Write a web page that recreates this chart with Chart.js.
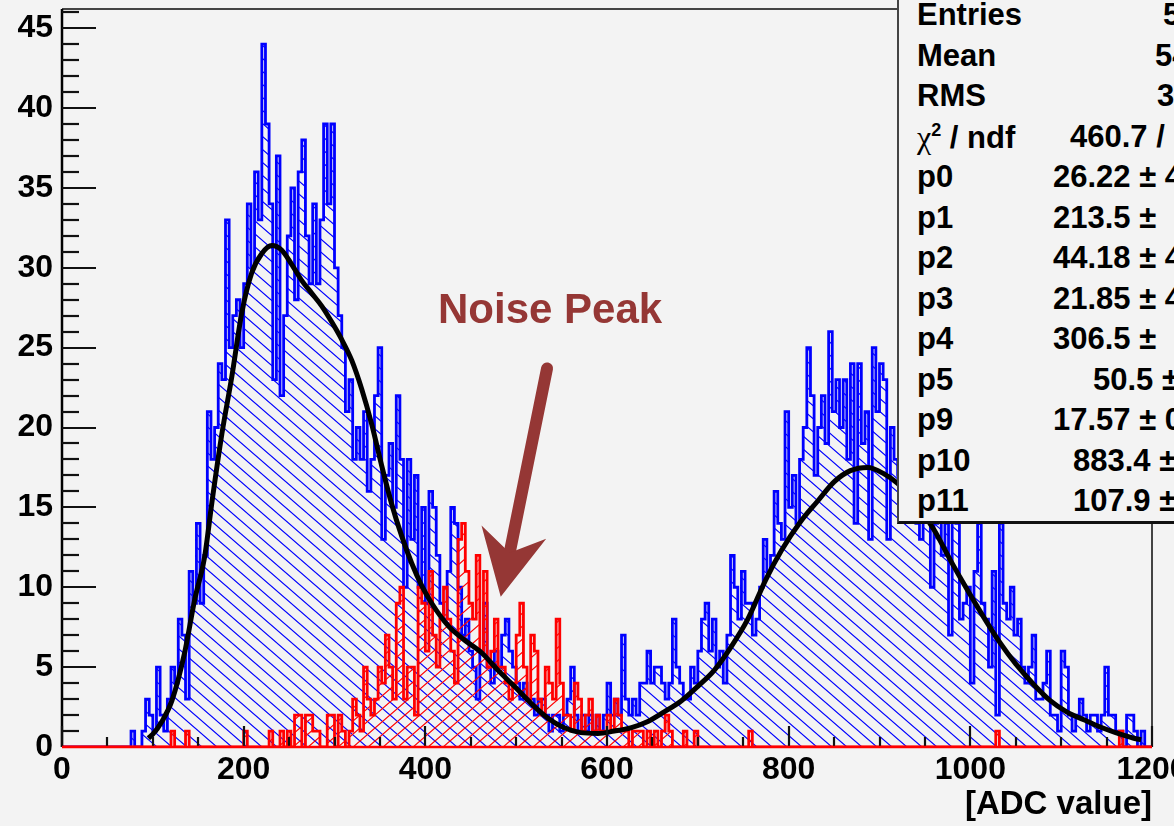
<!DOCTYPE html>
<html><head><meta charset="utf-8">
<script src="https://cdn.jsdelivr.net/npm/chart.js@4.4.1/dist/chart.umd.min.js"></script>
<style>
html,body{margin:0;padding:0;background:#f3f3f3;}
body{width:1174px;height:826px;overflow:hidden;position:relative;font-family:"Liberation Sans",Arial,Helvetica,sans-serif;}
#wrap{position:absolute;left:0;top:0;width:1240px;height:826px;}
#stats{position:absolute;left:897px;top:-20px;width:420px;height:544px;box-sizing:border-box;background:#f3f3f3;border-left:2px solid #444;border-bottom:3px solid #111;font-weight:bold;font-size:31px;color:#000;}
.r{position:absolute;height:40px;line-height:40px;white-space:nowrap;}
#note{position:absolute;left:438px;top:288px;font-size:42px;line-height:42px;font-weight:bold;color:#953735;white-space:nowrap;}
#xtitle{position:absolute;right:22px;top:783px;font-size:33px;line-height:40px;font-weight:bold;color:#000;white-space:nowrap;}
</style></head>
<body>
<div id="wrap"><canvas id="c" width="1240" height="826" style="width:1240px;height:826px"></canvas></div>
<div id="note">Noise Peak</div>
<div id="xtitle">[ADC value]</div>
<div id="stats">
  <div class="r" style="left:18px;top:15px">Entries</div><div class="r" style="left:264px;top:15px">5</div>
  <div class="r" style="left:18px;top:55.5px">Mean</div><div class="r" style="left:256px;top:55.5px">54</div>
  <div class="r" style="left:18px;top:96px">RMS</div><div class="r" style="left:258px;top:96px">3</div>
  <div class="r" style="left:18px;top:136.5px"><span style="font-family:'Liberation Serif',serif;font-weight:normal;font-size:32px">χ</span><span style="font-size:18px;position:relative;top:-12px">2</span> / ndf</div><div class="r" style="left:171px;top:136.5px">460.7 /</div>
  <div class="r" style="left:18px;top:177px">p0</div><div class="r" style="left:154px;top:177px">26.22 ± 4</div>
  <div class="r" style="left:18px;top:217.5px">p1</div><div class="r" style="left:154px;top:217.5px">213.5 ±</div>
  <div class="r" style="left:18px;top:258px">p2</div><div class="r" style="left:154px;top:258px">44.18 ± 4</div>
  <div class="r" style="left:18px;top:298.5px">p3</div><div class="r" style="left:154px;top:298.5px">21.85 ± 4</div>
  <div class="r" style="left:18px;top:339px">p4</div><div class="r" style="left:154px;top:339px">306.5 ±</div>
  <div class="r" style="left:18px;top:379.5px">p5</div><div class="r" style="left:194px;top:379.5px">50.5 ±</div>
  <div class="r" style="left:18px;top:420px">p9</div><div class="r" style="left:154px;top:420px">17.57 ± 0</div>
  <div class="r" style="left:18px;top:460.5px">p10</div><div class="r" style="left:174px;top:460.5px">883.4 ±</div>
  <div class="r" style="left:18px;top:501px">p11</div><div class="r" style="left:174px;top:501px">107.9 ±</div>
</div>
<script>
// ---- data ----
const xMin = 0, xMax = 1200, binWidth = 4;
const xTicks = [0, 200, 400, 600, 800, 1000, 1200];
const xTickLabels = ['0', '200', '400', '600', '800', '1000', '1200'];
const yTicks = [0, 5, 10, 15, 20, 25, 30, 35, 40, 45];
const yTickLabels = ['0', '5', '10', '15', '20', '25', '30', '35', '40', '45'];

const blueCounts = [
  0,0,0,0,0,0,0,0,0,0, 0,0,0,0,0,0,0,0,0,0,
  1,0,0,1,3,2,1,5,2,1, 3,5,4,8,7,3,11,9,14,9,
  12,21,18,20,24,23,33,25,27,28, 25,29,34,30,36,33,44,39,34,23,
  37,22,27,32,35,28,36,38,32,29, 34,29,33,39,34,39,30,27,25,21,
  23,18,20,18,21,16,18,22,25,13, 17,19,15,22,18,10,18,13,17,10,
  15,9,16,15,12,9,8,11,15,14, 10,7,8,6,5,3,6,9,5,4,
  6,5,7,8,6,5,4,3,4,3, 3,2,3,3,2,1,2,2,1,2,
  3,5,2,1,2,1,2,1,2,1, 2,4,2,3,2,7,3,2,3,2,
  4,4,6,4,5,5,4,3,4,8, 5,4,3,3,5,4,6,8,9,6,
  8,5,6,4,7,12,10,8,11,9, 9,7,8,10,13,11,12,16,14,13,
  21,15,17,14,18,20,25,22,17,20, 22,19,26,21,23,20,23,18,24,14,
  24,19,21,13,25,21,24,23,13,20, 18,17,21,15,19,16,14,13,16,15,
  10,14,15,12,14,7,15,14,8,9, 10,4,11,14,9,8,5,11,2,14,
  9,8,10,7,8,5,4,5,7,3, 3,4,6,2,2,1,6,5,2,1,
  2,3,2,1,2,2,1,2,5,2, 2,1,1,0,2,2,1,0,1,0
];

const redCounts = [
  0,0,0,0,0,0,0,0,0,0, 0,0,0,0,0,0,0,0,0,0,
  0,0,0,0,0,0,0,0,0,0, 0,1,0,0,0,1,0,0,0,0,
  0,0,0,0,0,0,0,0,0,0, 0,1,0,0,0,0,0,0,1,0,
  0,1,0,1,0,2,2,0,2,2, 1,1,0,0,2,2,0,2,1,0,
  1,3,2,1,5,3,2,3,5,4, 7,5,3,9,10,3,5,5,2,10,
  9,6,11,7,5,8,10,8,6,4, 13,14,11,9,8,12,6,11,5,6,
  8,5,5,4,3,4,7,9,5,3, 7,6,3,2,5,4,3,8,4,2,
  2,1,4,3,1,2,3,1,2,1, 1,2,1,3,2,1,1,0,1,1,
  1,0,1,0,1,0,1,2,1,0, 0,0,1,0,0,1,0,0,0,0,
  0,0,0,0,0,0,0,0,0,0, 1,0,0,0,0,0,0,0,0,0,
  0,0,0,0,0,0,0,0,0,0, 0,0,0,0,0,0,0,0,0,0,
  0,0,0,0,0,0,0,0,0,0, 0,0,0,0,0,0,0,0,0,0,
  0,0,0,0,0,0,0,0,0,0, 0,0,0,0,0,0,0,0,1,0,
  0,0,0,0,0,0,0,0,0,0, 0,0,0,0,0,0,0,0,0,0,
  0,0,0,0,0,0,0,0,0,0, 0,0,1,0,0,0,0,0,0,0
];

// fit curve
const fitX = [95,100,110,121,135,146,157,165,176,187,198,209,220,231,242,253,264,275,286,297,308,319,330,341,352,363,374,385,396,407,425,443,462,480,498,517,535,553,571,590,608,626,645,663,682,700,718,737,755,775,792,813,832,850,868,887,905,920,940,960,978,996,1015,1033,1050,1070,1088,1106,1125,1143,1160,1180,1188];
const fitY = [0.55,0.8,1.6,2.9,5.9,9.2,11.9,15.3,19.6,23.2,27.2,29.7,30.9,31.4,31.1,30.2,29.2,28.4,27.6,26.6,25.5,24.2,22.4,20.2,17.6,15.2,13.2,11.5,10.1,9.0,7.6,6.7,5.9,4.8,3.8,2.7,1.8,1.2,0.9,0.85,1.0,1.2,1.6,2.2,2.9,3.8,4.8,6.3,8.0,10.5,12.3,14.1,15.4,16.6,17.3,17.5,17.1,16.5,15.2,13.6,11.7,9.9,8.1,6.5,5.2,3.9,2.9,2.2,1.7,1.25,0.9,0.55,0.45];

// annotation arrow (data coordinates)
const arrowTail = [534, 23.7];
const arrowTip = [483, 9.4];

// ---- helpers ----
function histPoints(counts) {
  const pts = counts.map((c, i) => ({x: xMin + i * binWidth, y: c}));
  pts.push({x: xMax, y: counts[counts.length - 1]});
  return pts;
}
function hatch(color, back) {
  const w = 15, h = 13;
  const c = document.createElement('canvas');
  c.width = w; c.height = h;
  const g = c.getContext('2d');
  g.strokeStyle = color; g.lineWidth = 1.2;
  g.beginPath();
  for (const o of [-1, 0, 1]) {
    if (back) { g.moveTo(o * w - 1, -h / w); g.lineTo(o * w + w + 1, h + h / w); }
    else { g.moveTo(o * w - 1, h + h / w); g.lineTo(o * w + w + 1, -h / w); }
  }
  g.stroke();
  return g.createPattern(c, 'repeat');
}

const framePlugin = {
  id: 'framePlugin',
  afterDatasetsDraw(chart) {
    const ctx = chart.ctx;
    const a = chart.chartArea;
    const xs = chart.scales.x, ys = chart.scales.y;
    ctx.save();
    // frame
    ctx.lineCap = 'butt';
    ctx.strokeStyle = '#444';
    ctx.lineWidth = 2;
    ctx.beginPath();
    ctx.moveTo(a.left, a.top); ctx.lineTo(a.right, a.top); ctx.lineTo(a.right, a.bottom);
    ctx.stroke();
    ctx.strokeStyle = '#000';
    ctx.lineWidth = 2.5;
    ctx.beginPath();
    ctx.moveTo(a.left, a.top); ctx.lineTo(a.left, a.bottom);
    ctx.stroke();
    // tick marks (inside the frame)
    ctx.strokeStyle = '#111';
    ctx.lineWidth = 2.2;
    for (let v = 0; v <= 46; v += 1) {
      const py = Math.round(ys.getPixelForValue(v));
      const len = (v % 5 === 0) ? 34 : 17;
      ctx.beginPath();
      ctx.moveTo(a.left, py); ctx.lineTo(a.left + len, py);
      ctx.stroke();
    }
    for (let v = 0; v <= 1200; v += 50) {
      const px = Math.round(xs.getPixelForValue(v));
      const len = (v % 200 === 0) ? 21 : 10;
      ctx.beginPath();
      ctx.moveTo(px, a.bottom); ctx.lineTo(px, a.bottom - len);
      ctx.stroke();
    }
    // red zero line on top of axis
    ctx.strokeStyle = '#ff0000';
    ctx.lineWidth = 2.6;
    ctx.beginPath();
    ctx.moveTo(a.left, a.bottom); ctx.lineTo(a.right, a.bottom);
    ctx.stroke();
    // arrow
    const p0 = {x: xs.getPixelForValue(arrowTail[0]), y: ys.getPixelForValue(arrowTail[1])};
    const p1 = {x: xs.getPixelForValue(arrowTip[0]), y: ys.getPixelForValue(arrowTip[1])};
    const dx = p1.x - p0.x, dy = p1.y - p0.y, L = Math.hypot(dx, dy);
    const ux = dx / L, uy = dy / L, nx = -uy, ny = ux;
    const headLen = 66, notch = 45, half = 33;
    const bx = p1.x - ux * headLen, by = p1.y - uy * headLen;
    const nt = {x: p1.x - ux * notch, y: p1.y - uy * notch};
    ctx.strokeStyle = '#953735';
    ctx.fillStyle = '#953735';
    ctx.lineWidth = 12;
    ctx.lineCap = 'round';
    ctx.beginPath();
    ctx.moveTo(p0.x, p0.y); ctx.lineTo(nt.x - ux * 4, nt.y - uy * 4);
    ctx.stroke();
    ctx.beginPath();
    ctx.moveTo(p1.x, p1.y);
    ctx.lineTo(bx + nx * half, by + ny * half);
    ctx.lineTo(nt.x, nt.y);
    ctx.lineTo(bx - nx * half, by - ny * half);
    ctx.closePath();
    ctx.fill();
    ctx.restore();
  }
};

const tickFont = {family: '"Liberation Sans", Arial, Helvetica, sans-serif', size: 32, weight: 'bold'};
const canvas = document.getElementById('c');

new Chart(canvas, {
  type: 'line',
  data: {
    datasets: [
      {
        label: 'fit', data: fitX.map((v, i) => ({x: v, y: fitY[i]})),
        borderColor: '#000', borderWidth: 5, fill: false, pointRadius: 0,
        cubicInterpolationMode: 'monotone', order: 1
      },
      {
        label: 'noise', data: histPoints(redCounts), stepped: 'after',
        borderColor: '#ff0000', borderWidth: 2.8, backgroundColor: hatch('#ff0000', false),
        fill: 'origin', pointRadius: 0, borderJoinStyle: 'miter', order: 2
      },
      {
        label: 'signal', data: histPoints(blueCounts), stepped: 'after',
        borderColor: '#0000ff', borderWidth: 2.8, backgroundColor: hatch('#0000ff', true),
        fill: 'origin', pointRadius: 0, borderJoinStyle: 'miter', order: 3
      }
    ]
  },
  options: {
    responsive: false,
    animation: false,
    devicePixelRatio: 1,
    events: [],
    layout: {padding: {top: 9, right: 88, left: 0, bottom: 0}},
    plugins: {legend: {display: false}, tooltip: {enabled: false}},
    scales: {
      x: {
        type: 'linear', min: xMin, max: xMax,
        grid: {display: false, drawTicks: false},
        border: {display: false},
        ticks: {
          font: tickFont, color: '#000', padding: 4, autoSkip: false, maxRotation: 0,
          callback: v => { const i = xTicks.indexOf(v); return i >= 0 ? xTickLabels[i] : ''; }
        },
        afterBuildTicks: s => { s.ticks = xTicks.map(v => ({value: v})); },
        afterFit: s => { s.height = 79; s.paddingLeft = 0; s.paddingRight = 0; }
      },
      y: {
        type: 'linear', min: 0, max: 46.2,
        grid: {display: false, drawTicks: false},
        border: {display: false},
        ticks: {
          font: tickFont, color: '#000', padding: 9,
          callback: v => { const i = yTicks.indexOf(v); return i >= 0 ? yTickLabels[i] : ''; }
        },
        afterBuildTicks: s => { s.ticks = yTicks.map(v => ({value: v})); },
        afterFit: s => { s.width = 62; s.paddingTop = 0; s.paddingBottom = 0; }
      }
    }
  },
  plugins: [framePlugin]
});
</script>
</body></html>
